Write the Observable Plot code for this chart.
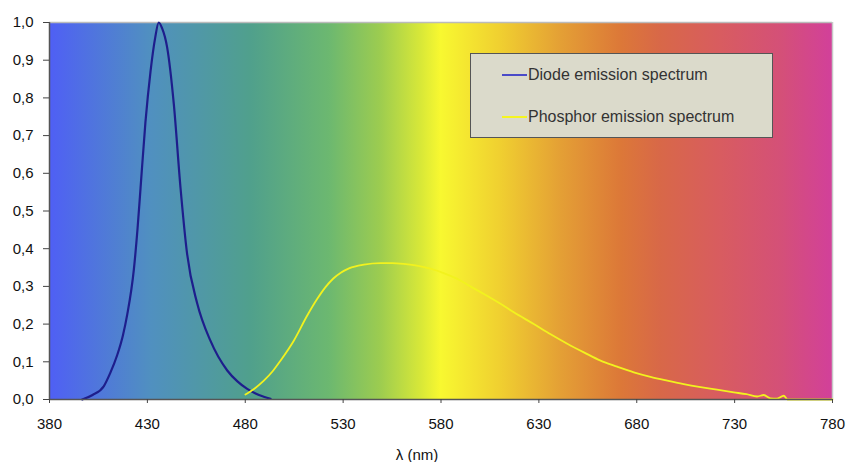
<!DOCTYPE html>
<html>
<head>
<meta charset="utf-8">
<script src="https://cdn.jsdelivr.net/npm/d3@7"></script>
<script src="https://cdn.jsdelivr.net/npm/@observablehq/plot@0.6"></script>
<style>
  html, body { margin: 0; padding: 0; background: #fff; }
  #wrap { position: relative; width: 848px; height: 462px; overflow: hidden; }
  #legend {
    position: absolute; left: 470px; top: 53px; width: 301px; height: 83px;
    background: #dbdacb; border: 1.5px solid #555;
    font: 16px "Liberation Sans", Arial, sans-serif; color: #333;
  }
  .row { position: absolute; left: 31px; display: flex; align-items: center; }
  .sw { width: 25px; height: 2px; margin-right: 1px; }
</style>
</head>
<body>
<div id="wrap"></div>
<script>
// Diode emission spectrum (wavelength nm, relative intensity)
const diodeNm  = [396.7, 402, 407.7, 411, 414.6, 417.5, 419.7, 423.1, 425, 426.5, 429, 431.6, 434, 435.8, 437.5, 440.1, 443.5, 446.9, 450.3, 455.5, 462.2, 470.8, 476, 481, 487, 492.9];
const diodeVal = [0.0, 0.012, 0.035, 0.07, 0.118, 0.17, 0.225, 0.345, 0.455, 0.56, 0.735, 0.87, 0.96, 1.0, 0.985, 0.934, 0.784, 0.563, 0.386, 0.254, 0.156, 0.077, 0.048, 0.028, 0.012, 0.002];

// Phosphor emission spectrum
const phosNm  = [480.1, 485, 489.5, 494, 498, 504.8, 511.6, 516.8, 521, 525, 529, 533, 540.6, 549.1, 555, 561, 567, 574.6, 581, 588.3, 595, 601.9, 610.4, 617, 627.4, 636, 644.5, 653, 661.5, 670, 678.5, 687, 695.6, 704, 712.6, 721, 729.6, 736, 741.5, 744.9, 748.3, 751.5, 755.1, 757, 765, 780];
const phosVal = [0.013, 0.03, 0.05, 0.075, 0.103, 0.156, 0.222, 0.267, 0.298, 0.321, 0.337, 0.348, 0.358, 0.362, 0.362, 0.36, 0.356, 0.347, 0.336, 0.32, 0.3, 0.28, 0.254, 0.232, 0.2, 0.173, 0.148, 0.125, 0.103, 0.087, 0.072, 0.06, 0.05, 0.041, 0.033, 0.026, 0.019, 0.014, 0.008, 0.012, 0.003, 0.002, 0.01, 0.0, 0.0, 0.0];

// Background spectrum colour stops
const bgNm    = [380, 432, 483, 523, 549, 570, 580, 610, 641, 672, 692, 723, 754, 780];
const bgColor = ["#4f5ff5", "#5090c0", "#50a08c", "#6cb870", "#9ccc50", "#d8e838", "#f8f830", "#f0d030", "#e4a035", "#dc7838", "#d86848", "#d85c60", "#d45078", "#d2409a"];

const xTicks = [380, 430, 480, 530, 580, 630, 680, 730, 780];
const yTicks = [0, 0.1, 0.2, 0.3, 0.4, 0.5, 0.6, 0.7, 0.8, 0.9, 1.0];

const series = [
  {name: "Diode emission spectrum", color: "#1e1e8c", width: 2.2, nm: diodeNm, val: diodeVal},
  {name: "Phosphor emission spectrum", color: "#f2f21e", width: 1.8, nm: phosNm, val: phosVal}
];
const rows = series.flatMap(s => s.nm.map((x, i) => ({series: s.name, x, y: s.val[i]})));

const gradient = () => {
  const defs = d3.create("svg:defs");
  const g = defs.append("linearGradient").attr("id", "spectrum")
    .attr("x1", "0").attr("x2", "1").attr("y1", "0").attr("y2", "0");
  bgNm.forEach((nm, i) => g.append("stop")
    .attr("offset", (nm - 380) / 400).attr("stop-color", bgColor[i]));
  return defs.node();
};

const fmt = d => d.toFixed(1).replace(".", ",");

const chart = Plot.plot({
  width: 848, height: 462,
  marginLeft: 49, marginRight: 16, marginTop: 22, marginBottom: 63,
  style: {fontFamily: "'Liberation Sans', Arial, sans-serif", fontSize: "15px", color: "#111", background: "transparent"},
  x: {domain: [380, 780]},
  y: {domain: [0, 1]},
  marks: [
    gradient,
    Plot.rect([{x1: 380, x2: 780, y1: 0, y2: 1}], {x1: "x1", x2: "x2", y1: "y1", y2: "y2", fill: "url(#spectrum)"}),
    Plot.ruleY([1], {stroke: "#bbb", strokeWidth: 1.5}),
    Plot.ruleX([780], {stroke: "#c8c8c8", strokeWidth: 1.5}),
    Plot.line(rows.filter(d => d.series === series[0].name), {x: "x", y: "y", stroke: series[0].color, strokeWidth: series[0].width, curve: "monotone-x"}),
    Plot.line(rows.filter(d => d.series === series[1].name), {x: "x", y: "y", stroke: series[1].color, strokeWidth: series[1].width, curve: "monotone-x"}),
    Plot.ruleY([0], {stroke: "#555", strokeWidth: 1.5}),
    Plot.ruleX([380], {stroke: "#555", strokeWidth: 1.5}),
    Plot.axisY({ticks: yTicks, tickFormat: fmt, tickSize: 6, tickPadding: 10, label: null, stroke: "#444", fill: "#111"}),
    Plot.axisX({ticks: xTicks, tickFormat: d => String(d), tickSize: 4, tickPadding: 15, label: null, stroke: "#444", fill: "#111"}),
    Plot.text(["λ (nm)"], {frameAnchor: "bottom", dy: 60, dx: -24, fontSize: 15, fill: "#111"})
  ]
});

const wrap = document.getElementById("wrap");
wrap.appendChild(chart);

const legend = document.createElement("div");
legend.id = "legend";
series.forEach((s, i) => {
  const r = document.createElement("div");
  r.className = "row";
  r.style.top = (i === 0 ? 12 : 54) + "px";
  const sw = document.createElement("span");
  sw.className = "sw";
  sw.style.background = i === 0 ? "#4a4ac8" : "#f5f520";
  const t = document.createElement("span");
  t.textContent = s.name;
  r.appendChild(sw); r.appendChild(t);
  legend.appendChild(r);
});
wrap.appendChild(legend);
</script>
</body>
</html>
